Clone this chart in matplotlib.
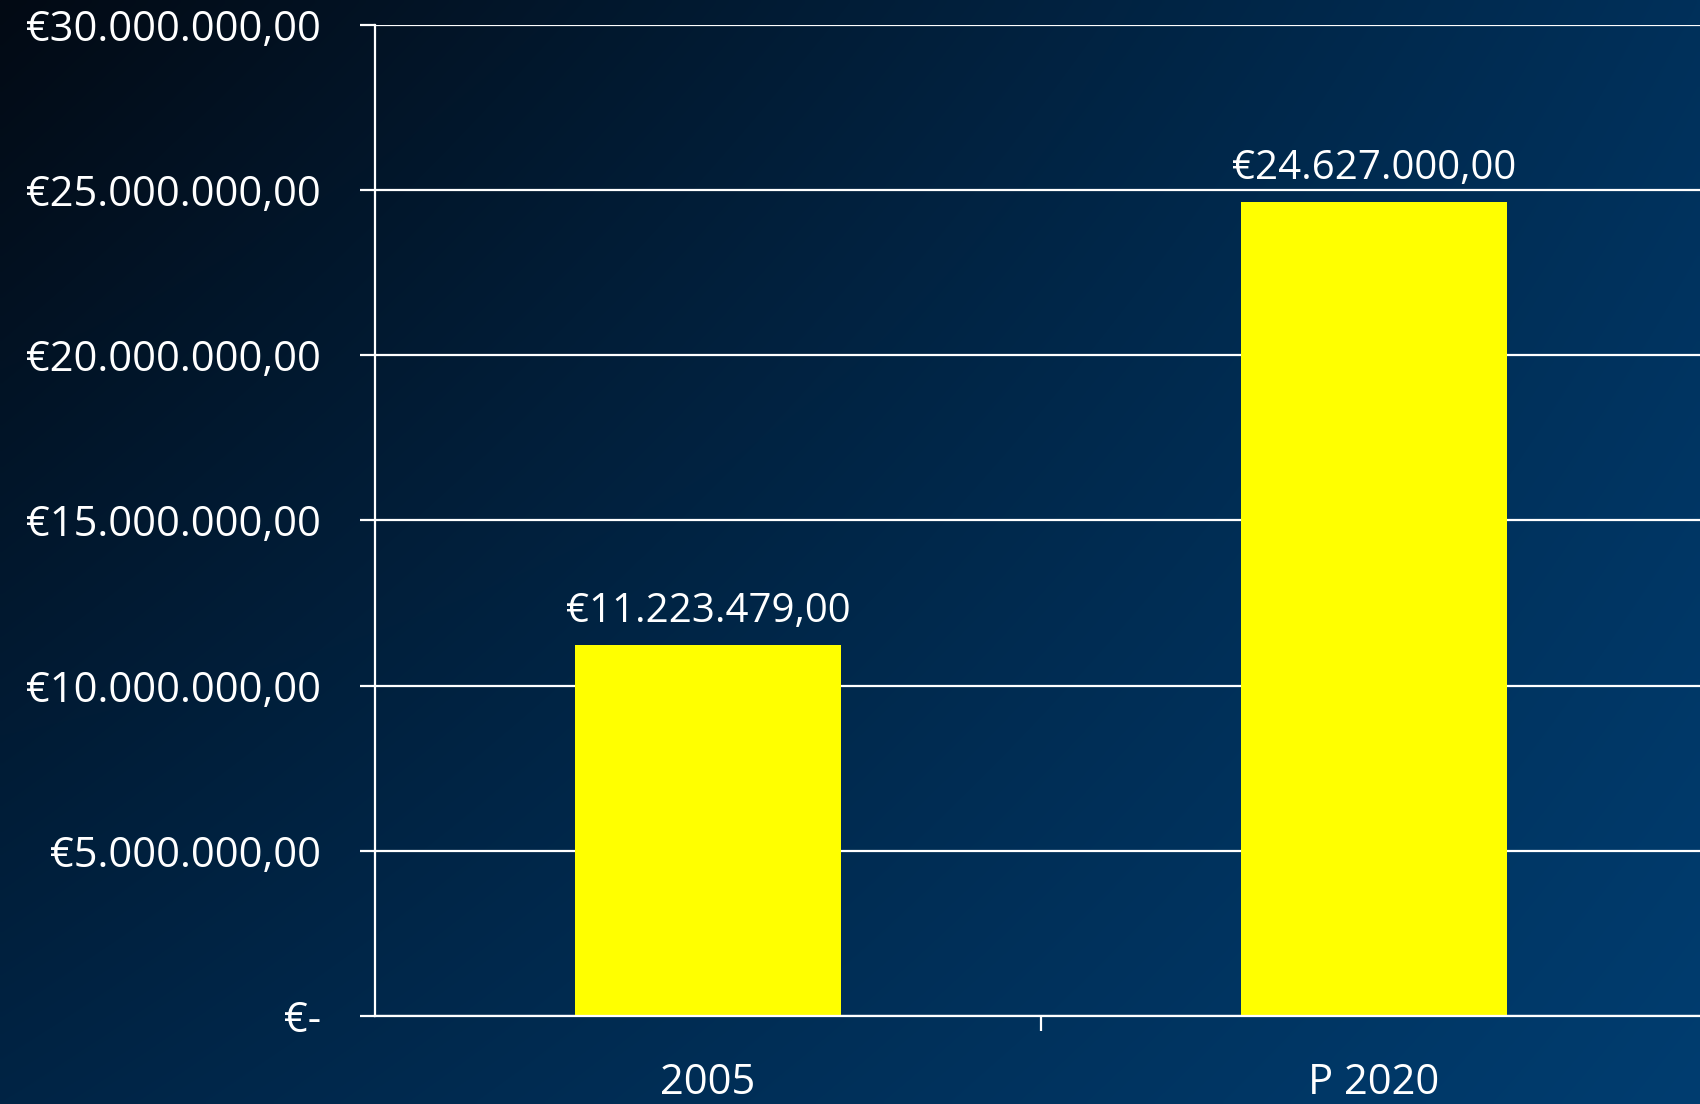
import numpy as np
import matplotlib
matplotlib.use('Agg')
import matplotlib.pyplot as plt
from matplotlib.ticker import FixedLocator

categories = ['2005', 'P 2020']
values = [11223479.0, 24627000.0]
value_labels = ['€11.223.479,00', '€24.627.000,00']
y_ticks = [0, 5e6, 10e6, 15e6, 20e6, 25e6, 30e6]
y_tick_labels = ['€-', '€5.000.000,00', '€10.000.000,00', '€15.000.000,00',
                 '€20.000.000,00', '€25.000.000,00', '€30.000.000,00']

plt.rcParams['font.family'] = ['Open Sans', 'DejaVu Sans']
FS = 30

fig = plt.figure(figsize=(17, 11.04), dpi=100)

# background gradient (bilinear between corner colours)
tl = np.array([0x03, 0x0a, 0x14]) / 255
tr = np.array([0x00, 0x30, 0x5a]) / 255
bl = np.array([0x00, 0x24, 0x45]) / 255
br = np.array([0x00, 0x3d, 0x70]) / 255
u = np.linspace(0, 1, 340)[None, :, None]
v = np.linspace(0, 1, 220)[:, None, None]
grad = (1 - v) * ((1 - u) * tl + u * tr) + v * ((1 - u) * bl + u * br)
bg = fig.add_axes([0, 0, 1, 1], zorder=0)
bg.imshow(grad, aspect='auto', extent=[0, 1, 0, 1], interpolation='bilinear')
bg.axis('off')

ax = fig.add_axes([0.2206, 0.0797, 0.7835, 0.8977], zorder=1)
ax.patch.set_alpha(0)

x = np.arange(len(categories))
ax.bar(x, values, width=0.4, color='#ffff00', zorder=2)
for xi, val, lab in zip(x, values, value_labels):
    ax.annotate(lab, (xi, val), xytext=(0, 24), textcoords='offset points',
                ha='center', va='center', color='white', fontsize=FS - 1)

ax.set_xlim(-0.5, 1.5)
ax.set_ylim(0, 30e6)
ax.set_yticks(y_ticks)
ax.set_yticklabels(y_tick_labels)
ax.set_xticks(x)
ax.set_xticklabels(categories)
ax.xaxis.set_minor_locator(FixedLocator([0.5]))
ax.grid(axis='y', color='white', lw=1.6, zorder=1)

for s in ['top', 'right']:
    ax.spines[s].set_visible(False)
for s in ['left', 'bottom']:
    ax.spines[s].set_color('white')
    ax.spines[s].set_linewidth(1.6)

ax.tick_params(axis='y', colors='white', length=11, width=1.6, pad=28, labelsize=FS)
ax.tick_params(axis='x', which='major', length=0, pad=33, labelsize=FS, labelcolor='white')
ax.tick_params(axis='x', which='minor', colors='white', length=11, width=1.6, direction='out')
ax.set_axisbelow(True)

fig.savefig('out.png', dpi=100)
